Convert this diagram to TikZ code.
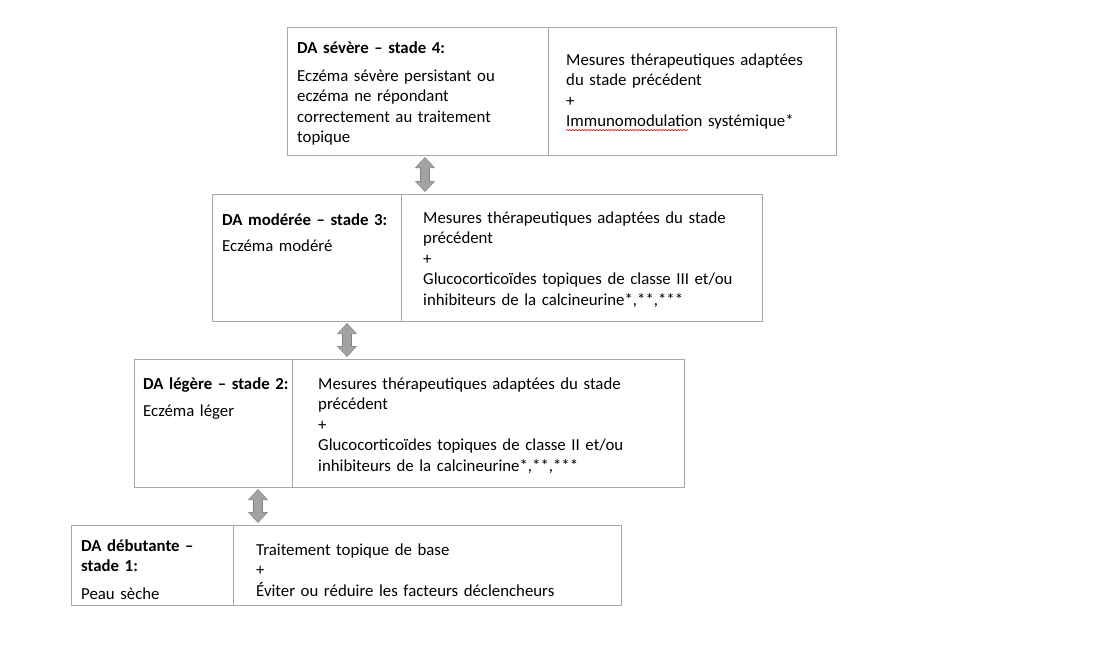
\documentclass[tikz,border=0pt]{standalone}
\usepackage{fontspec}
\setmainfont{Carlito}
\usetikzlibrary{arrows.meta, positioning, decorations.pathmorphing}
\definecolor{boxgray}{RGB}{168,168,168}
\definecolor{arrowfill}{RGB}{163,163,163}
\definecolor{arrowedge}{RGB}{130,130,130}
\definecolor{squigred}{RGB}{225,45,45}
\newcommand{\cellfont}{\fontsize{16.8}{20.5}\selectfont}

\tikzset{
  cell/.style={draw=boxgray, line width=1pt, anchor=north west, inner sep=0pt, outer sep=0pt},
  txt/.style={anchor=north west, inner sep=0pt, align=left, font=\cellfont, text width=#1},
  updown/.style={draw=arrowfill, line width=8pt,
    {Triangle[width=17pt,length=9.5pt]}-{Triangle[width=17pt,length=9.5pt]},
    shorten <=3pt, shorten >=3pt,
    preaction={draw=arrowedge, line width=9.6pt,
      {Triangle[width=19.5pt,length=11pt]}-{Triangle[width=19.5pt,length=11pt]},
      shorten <=2pt, shorten >=2pt}},
  squig/.style={draw=squigred, line width=0.7pt,
    decoration={snake, amplitude=0.7pt, segment length=3pt}, decorate}
}

\begin{document}
\begin{tikzpicture}[x=1pt, y=-1pt]
  \useasboundingbox (0,0) rectangle (1100,666);

  % stade 4
  \node[cell, minimum width=261, minimum height=127] (l4) at (287,28) {};
  \node[cell, minimum width=288, minimum height=127, right=0pt of l4] (r4) {};
  \node[txt=250] (l4t) at ([shift={(10,10.6)}]l4.north west)
    {\strut\textbf{DA sévère – stade 4:}\\[7.5pt]
     Eczéma sévère persistant ou\\
     eczéma ne répondant\\
     correctement au traitement\\
     topique};
  \node[txt=270] (r4t) at ([shift={(18,22.6)}]r4.north west)
    {\strut Mesures thérapeutiques adaptées\\
     du stade précédent\\
     +\\
     Immunomodulation systémique*};
  \coordinate (sq) at ([shift={(0,79.5)}]r4t.north west);
  \draw[squig] (sq) -- ++(122,0);

  % stade 3
  \node[cell, minimum width=189, minimum height=127] (l3) at (212,194) {};
  \node[cell, minimum width=361, minimum height=127, right=0pt of l3] (r3) {};
  \node[txt=180] (l3t) at ([shift={(10,16.6)}]l3.north west)
    {\strut\textbf{DA modérée – stade 3:}\\[5.5pt]
     Eczéma modéré};
  \node[txt=340] (r3t) at ([shift={(22,14.6)}]r3.north west)
    {\strut Mesures thérapeutiques adaptées du stade\\
     précédent\\
     +\\
     Glucocorticoïdes topiques de classe III et/ou\\
     inhibiteurs de la calcineurine*,**,***};

  % stade 2
  \node[cell, minimum width=158, minimum height=128] (l2) at (134,359) {};
  \node[cell, minimum width=392, minimum height=128, right=0pt of l2] (r2) {};
  \node[txt=150] (l2t) at ([shift={(9,15.6)}]l2.north west)
    {\strut\textbf{DA légère – stade 2:}\\[6.5pt]
     Eczéma léger};
  \node[txt=360] (r2t) at ([shift={(26,15.6)}]r2.north west)
    {\strut Mesures thérapeutiques adaptées du stade\\
     précédent\\
     +\\
     Glucocorticoïdes topiques de classe II et/ou\\
     inhibiteurs de la calcineurine*,**,***};

  % stade 1
  \node[cell, minimum width=162, minimum height=80] (l1) at (71,525) {};
  \node[cell, minimum width=388, minimum height=80, right=0pt of l1] (r1) {};
  \node[txt=150] (l1t) at ([shift={(10,11.6)}]l1.north west)
    {\strut\textbf{DA débutante –}\\
     \textbf{stade 1:}\\[7.5pt]
     Peau sèche};
  \node[txt=360] (r1t) at ([shift={(23,15.6)}]r1.north west)
    {\strut Traitement topique de base\\
     +\\
     Éviter ou réduire les facteurs déclencheurs};

  % doubles fleches
  \coordinate (a43) at (425,0);
  \coordinate (a32) at (347,0);
  \coordinate (a21) at (258,0);
  \draw[updown] (l4.south -| a43) -- (r3.north -| a43);
  \draw[updown] (l3.south -| a32) -- (r2.north -| a32);
  \draw[updown] (l2.south -| a21) -- (r1.north -| a21);
\end{tikzpicture}
\end{document}
